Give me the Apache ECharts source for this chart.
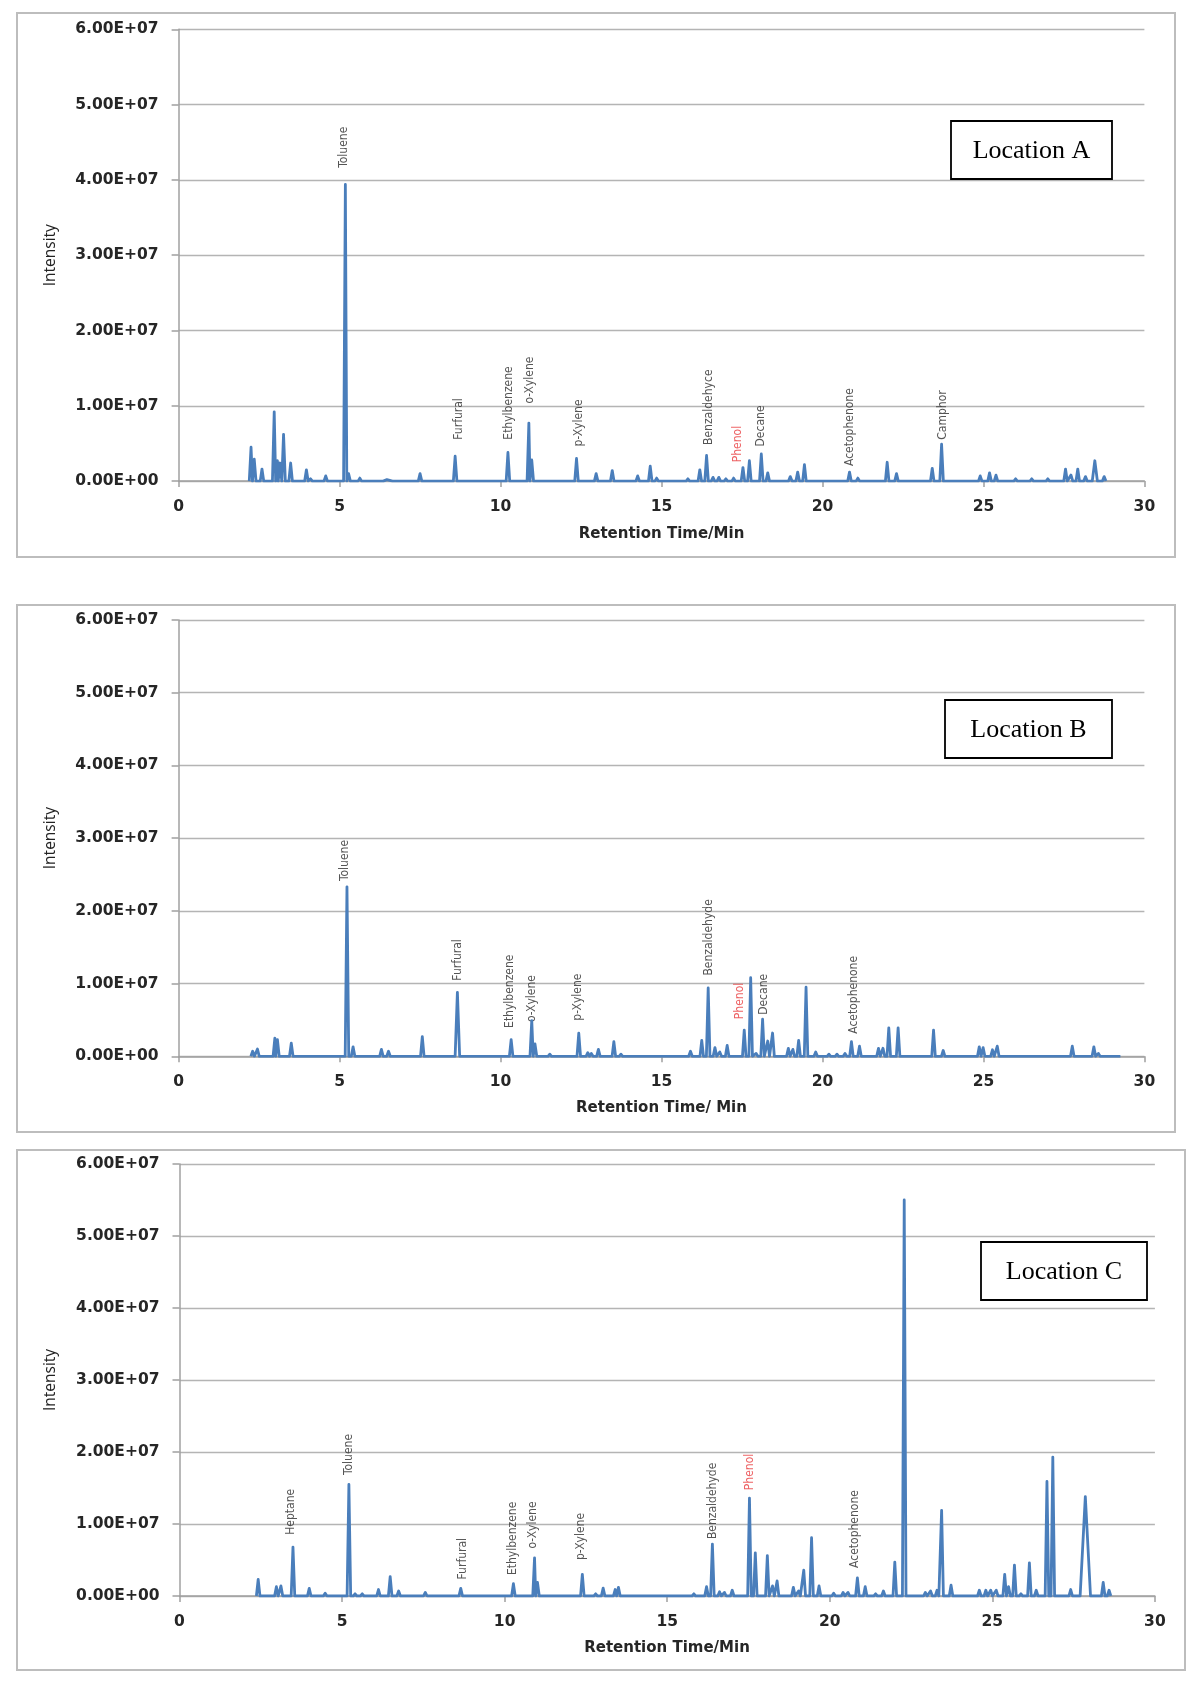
<!DOCTYPE html>
<html><head><meta charset="utf-8">
<script src="https://cdn.jsdelivr.net/npm/echarts@6/dist/echarts.min.js"></script>
<style>html,body{margin:0;padding:0;background:#fff}#c{width:1200px;height:1693px}</style>
</head><body><div id="c"></div><script>
// intensities in units of 1e6, retention time in minutes; optional 3rd value = peak half-width (min)
const UNIT = 1e6;
const peaksA = [[2.25,4.5],[2.35,2.9],[2.59,1.6],[2.97,9.2],[3.07,2.7],[3.15,2.4],[3.26,6.2],[3.48,2.4],[3.97,1.5],[4.1,0.3],[4.57,0.7],[4.75,0.2],[5.18,39.4],[5.28,1.0],[5.63,0.4],[6.3,0.2],[6.47,0.2],[6.7,0.2],[7.5,1.0],[8.59,3.3],[10.23,3.8],[10.88,7.7],[10.97,2.8],[12.36,3.0],[12.97,1.0],[13.47,1.4],[14.26,0.7],[14.65,2.0],[14.85,0.4],[15.82,0.3],[16.19,1.5],[16.4,3.4],[16.6,0.5],[16.78,0.5],[17.0,0.3],[17.24,0.4],[17.53,1.8],[17.73,2.7],[18.1,3.6],[18.3,1.1],[19.0,0.6],[19.23,1.2],[19.44,2.2],[19.87,0.2],[20.84,1.2],[21.1,0.4],[21.74,0.2],[22.01,2.5],[22.3,1.0],[23.41,1.7],[23.7,4.9],[24.13,0.2],[24.9,0.7],[25.19,1.1],[25.39,0.8],[26.0,0.3],[26.5,0.3],[27.0,0.3],[27.55,1.6],[27.72,0.8],[27.93,1.6],[28.17,0.6],[28.46,2.7,0.08],[28.75,0.6]];
const peaksB = [[2.3,0.7],[2.45,1.0],[2.99,2.5],[3.07,2.3],[3.5,1.8],[4.48,0.2],[5.23,23.3],[5.42,1.3],[6.3,0.95],[6.52,0.7],[6.8,0.2],[7.0,0.2],[7.57,2.7],[8.66,8.8,0.07],[10.33,2.3],[10.97,4.9],[11.07,1.7],[11.53,0.3],[12.43,3.2],[12.71,0.5],[12.82,0.4],[13.04,0.95],[13.52,2.0],[13.74,0.3],[14.3,0.1],[14.6,0.1],[14.9,0.1],[15.55,0.1],[15.9,0.7],[16.25,2.2],[16.45,9.4],[16.66,1.2],[16.81,0.6],[17.04,1.5],[17.3,0.2],[17.57,3.6],[17.77,10.8],[17.94,0.4],[18.14,5.1],[18.3,2.1],[18.45,3.2],[18.94,1.1],[19.08,0.95],[19.26,2.2],[19.49,9.5],[19.79,0.6],[20.2,0.3],[20.45,0.3],[20.7,0.4],[20.9,2.0],[21.15,1.4],[21.44,0.2],[21.74,1.1],[21.88,1.1],[22.06,3.9],[22.35,3.9],[23.45,3.6],[23.75,0.8],[24.87,1.3],[24.99,1.2],[25.28,0.9],[25.43,1.4],[25.7,0.2],[26.36,0.2],[27.76,1.4],[28.43,1.3],[28.57,0.4],[29.2,0.1]];
const peaksC = [[2.42,2.3],[2.98,1.3],[3.12,1.4],[3.49,6.8],[3.99,1.05],[4.48,0.4],[5.21,15.5],[5.4,0.3],[5.62,0.3],[6.12,0.9],[6.48,2.7],[6.74,0.7],[7.56,0.5],[8.65,1.05],[10.27,1.7],[10.92,5.3],[11.01,1.9],[11.5,0.2],[12.39,3.0],[12.8,0.3],[13.03,1.1],[13.4,0.9],[13.5,1.2],[14.2,0.1],[14.6,0.1],[14.9,0.1],[15.82,0.3],[16.21,1.3],[16.39,7.2],[16.61,0.6],[16.76,0.5],[17.0,0.8],[17.24,0.2],[17.53,13.6],[17.71,6.0],[18.08,5.6],[18.24,1.4],[18.38,2.1],[18.88,1.2],[19.04,0.7],[19.2,3.6],[19.44,8.1],[19.67,1.4],[20.12,0.4],[20.41,0.5],[20.56,0.5],[20.85,2.5],[21.09,1.3],[21.41,0.3],[21.65,0.7],[22.0,4.7],[22.29,55.0],[22.94,0.5],[23.1,0.7],[23.3,0.8],[23.44,11.9],[23.73,1.5],[24.18,0.2],[24.6,0.8],[24.8,0.8],[24.95,0.8],[25.12,0.8],[25.38,3.0],[25.5,1.3],[25.68,4.3],[25.88,0.3],[26.14,4.6],[26.35,0.8],[26.68,15.9],[26.86,19.3],[27.41,0.9],[27.86,13.8,0.16],[28.41,1.9],[28.59,0.8]];

// compound annotations: [name, retention time, intensity (1e6) at label start]
const labelsA = [["Toluene",5.14,41.6],["Furfural",8.72,5.5],["Ethylbenzene",10.26,5.5],["o-Xylene",10.92,10.3],["p-Xylene",12.42,4.6],["Benzaldehyce",16.48,4.8],["Phenol",17.36,2.5],["Decane",18.1,4.6],["Acetophenone",20.86,2.0],["Camphor",23.73,5.5]];
const labelsB = [["Toluene",5.16,24.1],["Furfural",8.68,10.4],["Ethylbenzene",10.3,3.9],["o-Xylene",10.97,4.7],["p-Xylene",12.4,4.9],["Benzaldehyde",16.48,11.1],["Phenol",17.42,5.1],["Decane",18.18,5.7],["Acetophenone",20.98,3.1]];
const labelsC = [["Heptane",3.42,8.5],["Toluene",5.21,16.8],["Furfural",8.72,2.3],["Ethylbenzene",10.24,2.9],["o-Xylene",10.86,6.6],["p-Xylene",12.33,5.0],["Benzaldehyde",16.39,7.9],["Phenol",17.53,14.7],["Acetophenone",20.76,3.9]];

const panelNames = ["Location A","Location B","Location C"];
const xTitles = ["Retention Time/Min","Retention Time/ Min","Retention Time/Min"];
const yTitle = "Intensity";

const HW = 0.055;
function trace(peaks){
  const pts = [];
  peaks.forEach(p => { const hw = p[2] || HW; pts.push([p[0]-hw,0],[p[0],p[1]*UNIT],[p[0]+hw,0]); });
  pts.sort((a,b)=>a[0]-b[0]);
  return pts;
}
function expFmt(v){
  if (v === 0) return '0.00E+00';
  const e = Math.floor(Math.log10(v) + 1e-9);
  const m = v / Math.pow(10, e);
  return m.toFixed(2) + 'E+' + String(e).padStart(2,'0');
}

const grids = [
  {left:178.6, top:29.3, width:965.8, height:451.8},
  {left:178.6, top:620, width:965.8, height:436.3},
  {left:179.5, top:1164, width:975.4, height:432}
];
const frames = [
  {x:17, y:13, w:1158, h:544},
  {x:17, y:605, w:1158, h:527},
  {x:17, y:1150, w:1168, h:520}
];
const boxes = [
  {x:951, y:121, w:161, h:58},
  {x:945, y:700, w:167, h:58},
  {x:981, y:1242, w:166, h:58}
];
const xTitlePos = [[661.5,534],[661.5,1108],[667,1648]];
const allPeaks = [peaksA, peaksB, peaksC];
const allLabels = [labelsA, labelsB, labelsC];

const axisFont = {fontFamily:'DejaVu Sans', fontWeight:'bold', fontSize:15.5, color:'#262626'};
const xAxes = [], yAxes = [], series = [], graphics = [];
grids.forEach((g,i) => {
  xAxes.push({type:'value', gridIndex:i, min:0, max:30, interval:5,
    axisLine:{show:true, lineStyle:{color:'#a0a0a0', width:1.5}},
    axisTick:{show:true, length:6, lineStyle:{color:'#a0a0a0', width:1.5}},
    axisLabel:Object.assign({margin:18}, axisFont),
    splitLine:{show:false}});
  yAxes.push({type:'value', gridIndex:i, min:0, max:6e7, interval:1e7,
    axisLine:{show:true, lineStyle:{color:'#a0a0a0', width:1.5}},
    axisTick:{show:true, length:7, lineStyle:{color:'#a0a0a0', width:1.5}},
    axisLabel:Object.assign({margin:20, formatter:expFmt}, axisFont),
    splitLine:{show:true, lineStyle:{color:'#b4b4b4', width:1.3}}});
  series.push({type:'line', xAxisIndex:i, yAxisIndex:i, data:trace(allPeaks[i]),
    showSymbol:false, symbol:'none', silent:true, animation:false,
    lineStyle:{color:'#4a7ebb', width:2.8, join:'round'}});
  series.push({type:'scatter', xAxisIndex:i, yAxisIndex:i, silent:true, animation:false,
    symbolSize:1, itemStyle:{color:'rgba(0,0,0,0)'},
    data: allLabels[i].map(l => ({value:[l[1], l[2]*UNIT], name:l[0],
      label:{color: l[0]==='Phenol' ? '#e8393c' : '#2a2a2a'}})),
    label:{show:true, position:'inside', rotate:90, align:'left', verticalAlign:'middle',
      formatter:p=>p.name, fontFamily:"'DejaVu Sans Condensed','DejaVu Sans',sans-serif", fontSize:12}});
  const f = frames[i];
  graphics.push({type:'rect', shape:{x:f.x, y:f.y, width:f.w, height:f.h}, style:{fill:'none', stroke:'#bdbdbd', lineWidth:2}, z:-1});
  const b = boxes[i];
  graphics.push({type:'rect', shape:{x:b.x, y:b.y, width:b.w, height:b.h}, style:{fill:'#fff', stroke:'#000', lineWidth:1.8}, z:10});
  graphics.push({type:'text', x:b.x+b.w/2, y:b.y+b.h/2+1, z:11, style:{text:panelNames[i], fontFamily:'Liberation Serif', fontSize:26, fill:'#000', align:'center', verticalAlign:'middle'}});
  graphics.push({type:'text', x:51, y:g.top+g.height/2, rotation:Math.PI/2, z:5, style:{text:yTitle, fontFamily:'Open Sans', fontSize:15.5, fill:'#222', align:'center', verticalAlign:'middle'}});
  graphics.push({type:'text', x:xTitlePos[i][0], y:xTitlePos[i][1], z:5, style:{text:xTitles[i], fontFamily:'DejaVu Sans', fontWeight:'bold', fontSize:15, fill:'#262626', align:'center', verticalAlign:'middle'}});
});

const chart = echarts.init(document.getElementById('c'), null, {renderer:'canvas'});
chart.setOption({animation:false, backgroundColor:'#fff', grid:grids, xAxis:xAxes, yAxis:yAxes, series:series, graphic:graphics});
</script></body></html>
